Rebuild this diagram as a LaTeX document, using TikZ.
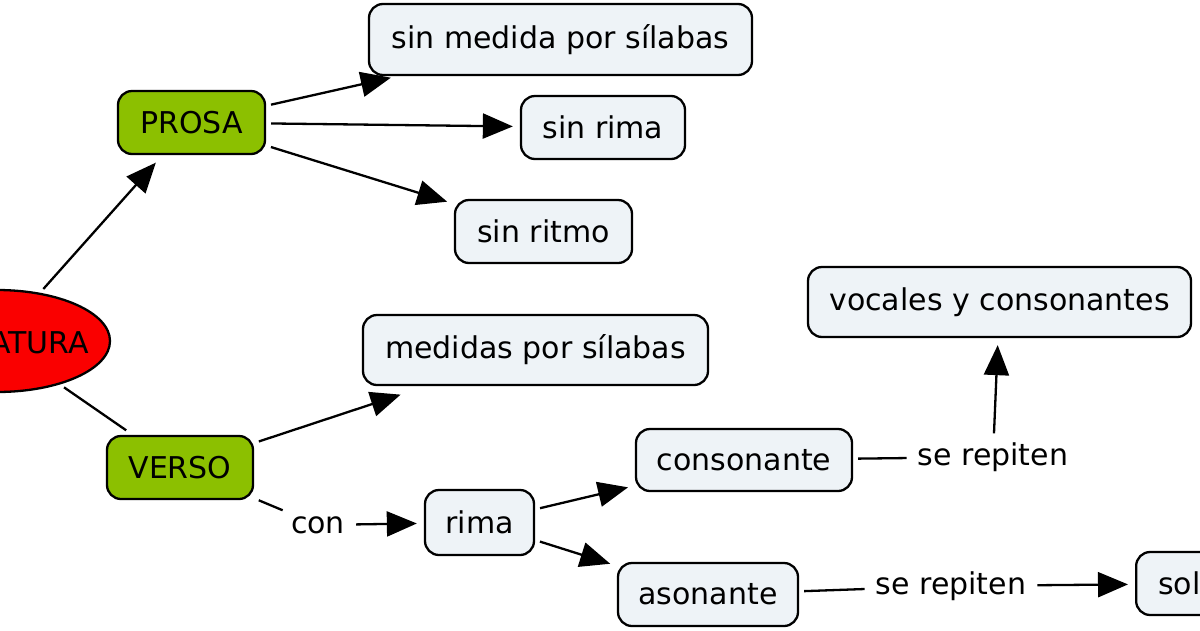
\documentclass[tikz,border=0pt]{standalone}
\usepackage{fontspec}
\setmainfont{DejaVu Sans}
\usetikzlibrary{arrows.meta,shapes.geometric}
\definecolor{boxfill}{RGB}{238,243,247}
\definecolor{greenfill}{RGB}{140,192,0}
\definecolor{redfill}{RGB}{250,0,0}
\begin{document}
\begin{tikzpicture}[x=1pt,y=-1pt,
  every node/.style={font=\fontsize{30}{36}\selectfont},
  cbox/.style={draw=black, line width=2.3pt, rounded corners=14pt, fill=boxfill, inner sep=0pt},
  gbox/.style={cbox, fill=greenfill},
  lbl/.style={inner xsep=6pt, inner ysep=4pt},
  arr/.style={line width=2.3pt, -{Triangle[length=30pt,width=25pt]}, shorten <=5pt, shorten >=7pt},
  ln/.style={line width=2.3pt, shorten <=5pt, shorten >=5pt}]
\useasboundingbox (0,0) rectangle (1200,630);
\clip (0,0) rectangle (1200,630);
\fill[white] (0,0) rectangle (1200,630);

% concept nodes
\node[ellipse, draw=black, line width=2.3pt, fill=redfill, minimum width=226pt, minimum height=102pt, inner sep=0pt] (lit) at (-3,341) {};
\node[anchor=east, inner sep=0pt] (littxt) at (89,343) {ATURA};

\node[gbox, minimum width=147pt, minimum height=63pt] (prosa) at (191.5,122.5) {PROSA};
\node[gbox, minimum width=146pt, minimum height=63pt] (verso) at (180,467.5) {VERSO};

\node[cbox, minimum width=383pt, minimum height=71pt] (smed) at (560.5,39.5) {sin medida por sílabas};
\node[cbox, minimum width=164pt, minimum height=63pt] (srima) at (603,127.5) {sin rima};
\node[cbox, minimum width=177pt, minimum height=63pt] (sritmo) at (543.5,231.5) {sin ritmo};
\node[cbox, minimum width=345pt, minimum height=70pt] (medidas) at (535.5,350) {medidas por sílabas};
\node[cbox, minimum width=383pt, minimum height=70pt] (vocales) at (999.5,302) {vocales y consonantes};
\node[cbox, minimum width=216pt, minimum height=62pt] (conson) at (744,460) {consonante};
\node[cbox, minimum width=109pt, minimum height=65pt] (rima) at (479.5,522.5) {rima};
\node[cbox, minimum width=180pt, minimum height=63pt] (ason) at (708,594.5) {asonante};
\node[cbox, anchor=west, minimum height=63pt, text width=140pt, align=left, inner xsep=22pt] (sol) at (1135,583.5) {sol};

% linking phrases
\node[lbl] (con) at (318,525) {con};
\node[lbl] (sr1) at (993,457) {se repiten};
\node[lbl] (sr2) at (951,586) {se repiten};

% connectors
\draw[arr, shorten >=10pt] (lit) -- (prosa);
\draw[ln, shorten >=8pt] (lit) -- (verso);
\draw[arr] (prosa) -- (smed);
\draw[arr] (prosa) -- (srima);
\draw[arr] (prosa) -- (sritmo);
\draw[arr, shorten >=27pt] (verso) -- (medidas);
\draw[ln] (verso) -- (con);
\draw[arr] (con) -- (rima);
\draw[arr] (rima) -- (conson);
\draw[arr] (rima) -- (ason);
\draw[ln] (conson) -- (sr1);
\draw[arr] (sr1) -- (vocales);
\draw[ln] (ason) -- (sr2);
\draw[arr] (sr2) -- (sol);
\end{tikzpicture}
\end{document}
